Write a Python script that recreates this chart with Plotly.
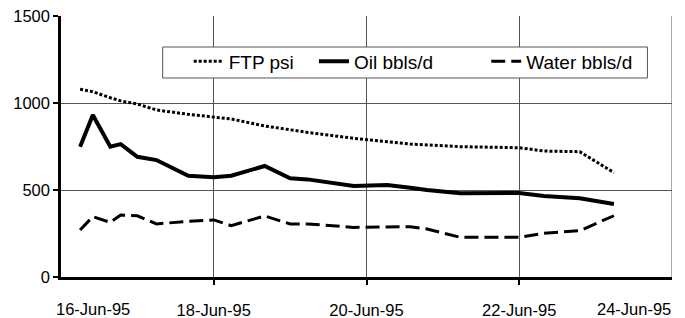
import plotly.graph_objects as go

# ---- data ----
times = [
    "1995-06-16 06:00", "1995-06-16 10:00", "1995-06-16 15:30", "1995-06-16 18:45",
    "1995-06-17 00:00", "1995-06-17 06:00", "1995-06-17 16:00", "1995-06-18 00:00",
    "1995-06-18 05:30", "1995-06-18 16:00", "1995-06-19 00:00", "1995-06-19 05:30",
    "1995-06-19 20:00", "1995-06-20 06:30", "1995-06-20 13:45", "1995-06-20 19:00",
    "1995-06-21 05:30", "1995-06-22 00:00", "1995-06-22 07:45", "1995-06-22 19:00",
    "1995-06-23 05:45",
]
ftp_psi = [1079, 1065, 1030, 1012, 994, 960, 935, 921, 908, 868, 845, 831,
           797, 776, 764, 759, 749, 743, 724, 720, 600]
oil_bbls = [749, 931, 749, 764, 691, 672, 582, 573, 582, 638, 567, 561,
            523, 529, 513, 500, 481, 483, 465, 452, 420]
water_bbls = [270, 347, 314, 356, 352, 305, 320, 328, 295, 351, 305, 305,
              285, 289, 289, 276, 228, 228, 251, 266, 352]

series_names = ["FTP psi", "Oil bbls/d", "Water bbls/d"]
tick_dates = ["1995-06-16", "1995-06-18", "1995-06-20", "1995-06-22", "1995-06-24"]
tick_labels = ["16-Jun-95", "18-Jun-95", "20-Jun-95", "22-Jun-95", "24-Jun-95"]
y_ticks = [0, 500, 1000, 1500]

FONT = "Liberation Sans, Arial, sans-serif"
GRID = "#555"

fig = go.Figure()
fig.add_trace(go.Scatter(x=times, y=ftp_psi, name=series_names[0], mode="lines",
                         legend="legend",
                         line=dict(color="black", width=3, dash="3px,2px")))
fig.add_trace(go.Scatter(x=times, y=oil_bbls, name=series_names[1], mode="lines",
                         legend="legend2",
                         line=dict(color="black", width=4)))
fig.add_trace(go.Scatter(x=times, y=water_bbls, name=series_names[2], mode="lines",
                         legend="legend3",
                         line=dict(color="black", width=3, dash="14px,6px")))

leg_common = dict(orientation="h", xanchor="left", yanchor="middle", y=0.826,
                  bgcolor="rgba(0,0,0,0)", borderwidth=0,
                  font=dict(size=19, family=FONT, color="black"))

fig.update_layout(
    width=685, height=318,
    margin=dict(l=61, r=13, t=16, b=41, autoexpand=False),
    paper_bgcolor="white", plot_bgcolor="white",
    font=dict(family=FONT, size=16.5, color="black"),
    showlegend=True,
    legend=dict(x=0.209, **leg_common),
    legend2=dict(x=0.414, **leg_common),
    legend3=dict(x=0.696, **leg_common),
)

fig.update_xaxes(
    type="date", range=[tick_dates[0], tick_dates[-1]],
    tickvals=tick_dates[1:4], ticktext=tick_labels[1:4],
    showgrid=True, gridcolor=GRID, gridwidth=1,
    showline=True, linecolor="black", linewidth=2.5,
    ticks="outside", ticklen=5, tickwidth=2, tickcolor="black",
    ticklabelstandoff=11, tickfont=dict(size=16.5),
    zeroline=False, automargin=False,
)
fig.update_yaxes(
    range=[0, 1500], tickvals=y_ticks,
    showgrid=True, gridcolor=GRID, gridwidth=1,
    showline=True, linecolor="black", linewidth=2.5,
    ticks="outside", ticklen=5, tickwidth=2, tickcolor="black",
    tickfont=dict(size=16.5), zeroline=False, automargin=False,
)
# right-edge gridline at 24-Jun (plot border)
fig.add_vline(x=tick_dates[-1], line=dict(color=GRID, width=1))
# legend frame
fig.add_shape(type="rect", xref="paper", yref="paper",
              x0=0.1664, x1=0.9598, y0=0.7625, y1=0.8812,
              line=dict(color=GRID, width=1), fillcolor="white", layer="above")
fig.add_annotation(x=tick_dates[0], y=0, xref="x", yref="paper", text=tick_labels[0],
                   showarrow=False, xanchor="left", yanchor="middle", yshift=-32, xshift=-7,
                   font=dict(size=16.5))
fig.add_annotation(x=tick_dates[-1], y=0, xref="x", yref="paper", text=tick_labels[-1],
                   showarrow=False, xanchor="right", yanchor="middle", yshift=-32, xshift=1,
                   font=dict(size=16.5))

fig.write_html("out.html", config={"displayModeBar": False},
               post_script="document.body.style.margin='0';")
